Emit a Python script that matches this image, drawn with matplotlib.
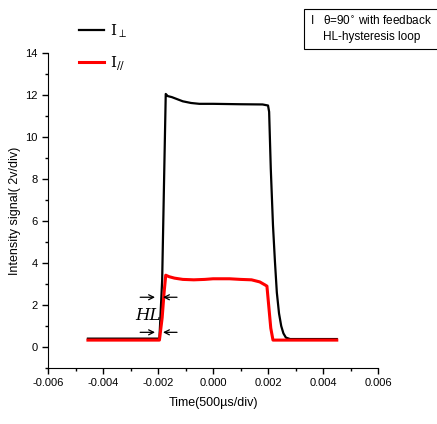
import matplotlib
matplotlib.use("Agg")
import matplotlib.pyplot as plt

# values
t_perp = [-0.00455, -0.00195, -0.00185, -0.00178, -0.00172, -0.00165, -0.0015, -0.0013,
          -0.0011, -0.0008, -0.0005, 0.0, 0.0010, 0.0018, 0.00200, 0.00204, 0.00210,
          0.00218, 0.00225, 0.00232, 0.00240, 0.00248, 0.00256, 0.00265, 0.0028, 0.0045]
i_perp = [0.40, 0.40, 3.2, 8.0, 12.05, 11.95, 11.9, 11.8,
          11.7, 11.62, 11.58, 11.58, 11.56, 11.55, 11.5, 11.2, 8.5,
          5.8, 4.1, 2.6, 1.6, 1.0, 0.65, 0.45, 0.38, 0.38]

t_par = [-0.00455, -0.00195, -0.00185, -0.00178, -0.00172, -0.0016, -0.0014, -0.0011,
         -0.0007, -0.0003, 0.0, 0.0006, 0.0010, 0.0014, 0.0017, 0.0019, 0.00196,
         0.00203, 0.00210, 0.00218, 0.0025, 0.0045]
i_par = [0.33, 0.33, 1.4, 2.6, 3.42, 3.35, 3.28, 3.22,
         3.2, 3.22, 3.25, 3.25, 3.22, 3.2, 3.1, 2.95, 2.9,
         1.9, 0.9, 0.33, 0.33, 0.33]

xticks = [-0.006, -0.004, -0.002, 0.000, 0.002, 0.004, 0.006]
xticklabels = ["-0.006", "-0.004", "-0.002", "0.000", "0.002", "0.004", "0.006"]
yticks = [0, 2, 4, 6, 8, 10, 12, 14]

plt.rcParams['font.family'] = ['Liberation Sans', 'DejaVu Sans']

fig = plt.figure(figsize=(4.37, 4.24), dpi=100)
ax = fig.add_axes([0.110, 0.132, 0.755, 0.743])

l1, = ax.plot(t_perp, i_perp, color="black", lw=1.6)
l2, = ax.plot(t_par, i_par, color="#ff0000", lw=2.2)

ax.set_xlim(-0.006, 0.006)
ax.set_ylim(-1, 14)
ax.set_xticks(xticks)
ax.set_xticklabels(xticklabels)
ax.set_yticks(yticks)
ax.set_xticks([-0.005, -0.003, -0.001, 0.001, 0.003, 0.005], minor=True)
ax.set_yticks([-1, 1, 3, 5, 7, 9, 11, 13], minor=True)
ax.tick_params(which="major", direction="out", length=4, width=1, labelsize=8)
ax.tick_params(which="minor", direction="out", length=2, width=1)
for s in ["top", "right"]:
    ax.spines[s].set_visible(False)

ax.set_xlabel("Time(500\u00b5s/div)", fontsize=9, labelpad=6)
ax.set_ylabel("Intensity signal( 2v/div)", fontsize=9, labelpad=3)

# legend at upper left, outside the axes
fig.legend([l1, l2], ["I$_\\perp$", "I$_{//}$"], loc="upper left",
           bbox_to_anchor=(0.15, 0.98), frameon=False,
           handlelength=1.6, labelspacing=0.9, handletextpad=0.4,
           prop={"family": "serif", "size": 11})

fig.text(0.99, 0.965, "I   \u03b8=90$^{\\circ}$ with feedback\nHL-hysteresis loop",
         ha="right", va="top", fontsize=8.5, linespacing=1.35, multialignment="center",
         bbox=dict(boxstyle="square,pad=0.5", fc="white", ec="black", lw=0.8))

# HL markers on the rising edge
arr = dict(arrowstyle="->", lw=0.9, color="black", shrinkA=0, shrinkB=0,
           mutation_scale=9)
for y in [2.37, 0.70]:
    ax.annotate("", xy=(-0.00211, y), xytext=(-0.00265, y), arrowprops=arr)
    ax.annotate("", xy=(-0.00182, y), xytext=(-0.00131, y), arrowprops=arr)
ax.text(-0.00235, 1.48, "HL", fontsize=12, style="italic", family="serif",
        ha="center", va="center")

fig.savefig("out.png", dpi=100)
